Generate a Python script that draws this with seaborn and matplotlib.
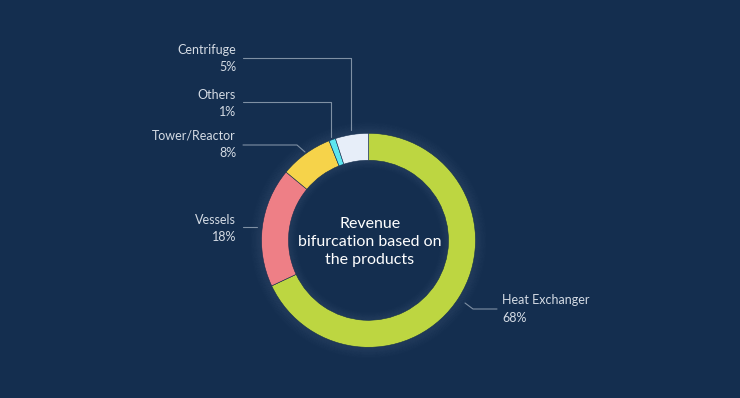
import matplotlib
matplotlib.use("Agg")
import matplotlib.pyplot as plt
import seaborn as sns
from matplotlib.patches import Circle

categories = ["Heat Exchanger", "Vessels", "Tower/Reactor", "Others", "Centrifuge"]
values = [68, 18, 8, 1, 5]
colors = ["#bdd641", "#ee7f86", "#f6d34a", "#5de6ef", "#e7eef9"]
center_text = "Revenue\nbifurcation based on\nthe products"

BG = "#142e4f"
sns.set_theme(style="white")
plt.rcParams["font.family"] = ["Lato", "DejaVu Sans"]

W, H = 740, 398
fig = plt.figure(figsize=(7.4, 3.98), dpi=100, facecolor=BG)
ax = fig.add_axes([0, 0, 1, 1])
ax.set_facecolor(BG)

cx, cy = 368.5, H - 240.3
R = 107
width = 27

ax.pie(values, colors=colors, startangle=90, counterclock=False, center=(cx, cy), radius=R,
       wedgeprops=dict(width=width, edgecolor=BG, linewidth=0.4, zorder=3), frame=True)
ax.set_xlim(0, W)
ax.set_ylim(0, H)
ax.set_aspect("equal")
ax.axis("off")

# soft glow outside ring and inside hole
for i in range(12):
    a = 0.05 * (1 - i / 12)
    ax.add_patch(Circle((cx, cy), R + 0.5 + i * 1.0, facecolor="none", edgecolor="#d0e0ff",
                        lw=1.0, alpha=a, zorder=1))
for i in range(8):
    a = 0.05 * (1 - i / 8)
    ax.add_patch(Circle((cx, cy), R - width - 0.5 - i * 1.0, facecolor="none", edgecolor="#d0e0ff",
                        lw=1.0, alpha=a, zorder=2))

ax.text(370, H - 242, center_text, ha="center", va="center", color="white", fontsize=11.5,
        linespacing=1.35, zorder=5)

lab_col = "#d4dbe4"
line_col = "#7f90a4"
fs = 9

def Y(y):
    return H - y

# label positions (pixel coords), leader lines
labels_left = [
    ("Centrifuge", "5%", 50, [(243, 58), (351, 58), (351, 130)], 4),
    ("Others", "1%", 95, [(243, 102), (331, 102), (331, 137)], 3),
    ("Tower/Reactor", "8%", 136, [(243, 145), (297, 145), (305, 152)], 2),
    ("Vessels", "18%", 220, [(243, 227), (257, 227)], 1),
]
for name, pct, y, pts, idx in labels_left:
    ax.text(236, Y(y), categories[idx], ha="right", va="center", color=lab_col, fontsize=fs)
    ax.text(236, Y(y + 17), f"{values[idx]}%", ha="right", va="center", color=lab_col, fontsize=fs)
    ax.plot([p[0] for p in pts], [Y(p[1]) for p in pts], color=line_col, lw=0.8, zorder=2)

ax.text(502, Y(300), categories[0], ha="left", va="center", color=lab_col, fontsize=fs)
ax.text(502, Y(318), f"{values[0]}%", ha="left", va="center", color=lab_col, fontsize=fs)
pts = [(465, 303), (473, 309), (497, 309)]
ax.plot([p[0] for p in pts], [Y(p[1]) for p in pts], color=line_col, lw=0.8, zorder=2)

fig.savefig("out.png", dpi=100, facecolor=BG)
